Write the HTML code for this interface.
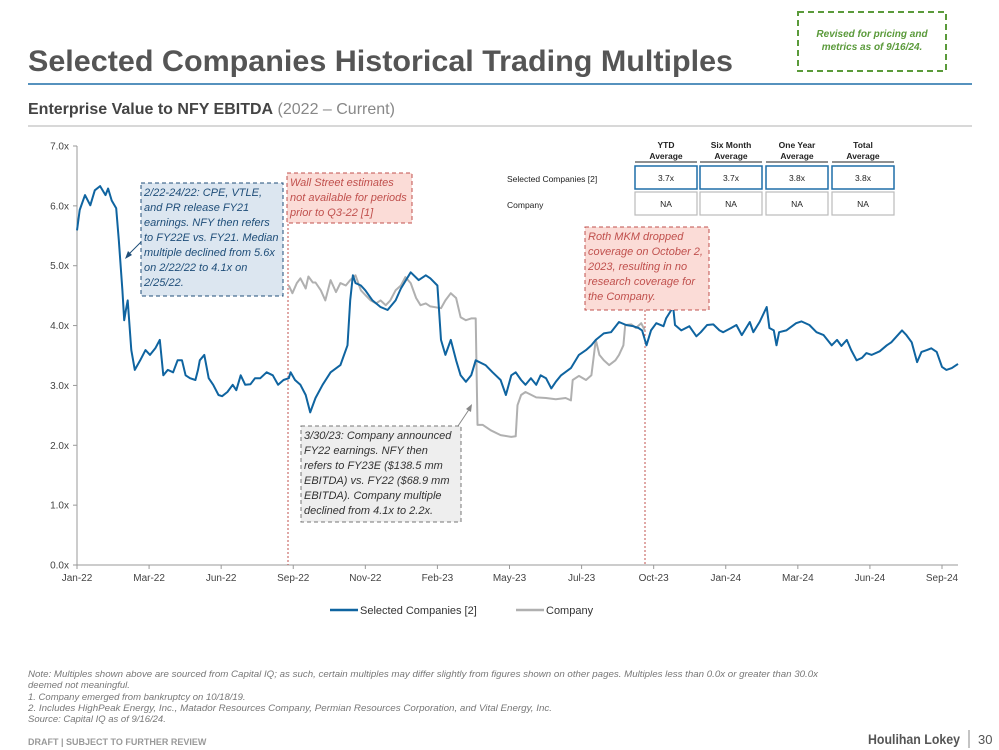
<!DOCTYPE html>
<html><head><meta charset="utf-8"><style>
body{margin:0;background:#fff;}
svg{display:block;font-family:"Liberation Sans",Arial,sans-serif;}
</style></head><body>
<svg id="page" width="999" height="750" viewBox="0 0 999 750">
<text x="28" y="71" font-size="30" font-weight="bold" fill="#555" textLength="705" lengthAdjust="spacingAndGlyphs">Selected Companies Historical Trading Multiples</text>
<rect x="798" y="12" width="148" height="59" fill="#fff" stroke="#5a9a3a" stroke-width="2" stroke-dasharray="6,4"/>
<text x="872" y="37" font-size="10" font-style="italic" font-weight="bold" fill="#5a9a3a" text-anchor="middle">Revised for pricing and</text>
<text x="872" y="50" font-size="10" font-style="italic" font-weight="bold" fill="#5a9a3a" text-anchor="middle">metrics as of 9/16/24.</text>
<line x1="28" y1="84" x2="972" y2="84" stroke="#1f6ea8" stroke-width="1.5"/>
<text x="28" y="114" font-size="16" fill="#444"><tspan font-weight="bold">Enterprise Value to NFY EBITDA</tspan><tspan fill="#888"> (2022 – Current)</tspan></text>
<line x1="28" y1="126" x2="972" y2="126" stroke="#ccc" stroke-width="1.5"/>

<g id="chart"></g>

<g font-size="8.5" fill="#222">
<text x="666" y="148" text-anchor="middle" font-weight="bold">YTD</text>
<text x="666" y="159" text-anchor="middle" font-weight="bold">Average</text>
<text x="731" y="148" text-anchor="middle" font-weight="bold">Six Month</text>
<text x="731" y="159" text-anchor="middle" font-weight="bold">Average</text>
<text x="797" y="148" text-anchor="middle" font-weight="bold">One Year</text>
<text x="797" y="159" text-anchor="middle" font-weight="bold">Average</text>
<text x="863" y="148" text-anchor="middle" font-weight="bold">Total</text>
<text x="863" y="159" text-anchor="middle" font-weight="bold">Average</text>
<g stroke="#222" stroke-width="1"><line x1="635" y1="162" x2="697" y2="162"/><line x1="700" y1="162" x2="762" y2="162"/><line x1="766" y1="162" x2="828" y2="162"/><line x1="832" y1="162" x2="894" y2="162"/></g>
<text x="507" y="182">Selected Companies [2]</text>
<text x="507" y="208">Company</text>
<g fill="#fff" stroke="#1f6ea8" stroke-width="1.5">
<rect x="635" y="166" width="62" height="23"/><rect x="700" y="166" width="62" height="23"/><rect x="766" y="166" width="62" height="23"/><rect x="832" y="166" width="62" height="23"/></g>
<g fill="#fff" stroke="#bbb" stroke-width="1.2">
<rect x="635" y="192" width="62" height="23"/><rect x="700" y="192" width="62" height="23"/><rect x="766" y="192" width="62" height="23"/><rect x="832" y="192" width="62" height="23"/></g>
<g text-anchor="middle">
<text x="666" y="181">3.7x</text>
<text x="731" y="181">3.7x</text>
<text x="797" y="181">3.8x</text>
<text x="863" y="181">3.8x</text>
<text x="666" y="207">NA</text>
<text x="731" y="207">NA</text>
<text x="797" y="207">NA</text>
<text x="863" y="207">NA</text>
</g></g>

<g font-size="9.5" font-style="italic" fill="#777">
<text x="28" y="677" textLength="790" lengthAdjust="spacingAndGlyphs">Note: Multiples shown above are sourced from Capital IQ; as such, certain multiples may differ slightly from figures shown on other pages. Multiples less than 0.0x or greater than 30.0x</text>
<text x="28" y="688">deemed not meaningful.</text>
<text x="28" y="700">1. Company emerged from bankruptcy on 10/18/19.</text>
<text x="28" y="711" textLength="524" lengthAdjust="spacingAndGlyphs">2.  Includes HighPeak Energy, Inc., Matador Resources Company, Permian Resources Corporation, and Vital Energy, Inc.</text>
<text x="28" y="722">Source: Capital IQ as of 9/16/24.</text>
</g>
<text x="28" y="745" font-size="9" fill="#999" font-weight="bold">DRAFT | SUBJECT TO FURTHER REVIEW</text>
<text x="960" y="744" font-size="14" font-weight="bold" fill="#555" text-anchor="end" textLength="92" lengthAdjust="spacingAndGlyphs">Houlihan Lokey</text>
<line x1="969" y1="730" x2="969" y2="748" stroke="#888"/>
<text x="978" y="744" font-size="13" fill="#555">30</text>
</svg>
<script>
const yTicks=[0,1,2,3,4,5,6,7];
const xTickLabels=["Jan-22","Mar-22","Jun-22","Sep-22","Nov-22","Feb-23","May-23","Jul-23","Oct-23","Jan-24","Mar-24","Jun-24","Sep-24"];
const xTickDays=[0,81,162,243,324,405,486,567,648,729,810,891,972];
const selDays=[0,3,9,15,20,26,32,35,39,44,47,51,53,55,57,61,65,71,77,82,88,93,97,102,108,113,118,122,127,133,136,138,143,148,153,159,163,169,175,179,184,189,195,200,206,213,220,226,232,238,240,245,251,257,262,268,276,285,296,304,307,310,313,319,324,332,341,349,358,364,375,384,392,397,405,409,414,420,426,431,437,443,448,459,467,476,482,488,493,499,504,510,516,521,527,533,538,544,555,564,572,578,583,592,600,609,617,625,631,635,640,645,651,659,662,670,672,679,688,696,701,708,715,722,726,735,741,747,756,760,767,775,778,783,786,789,797,808,814,823,831,839,848,854,859,865,870,876,882,887,893,902,910,915,927,932,938,944,949,955,960,966,972,977,983,990];
const selVals=[5.59,5.93,6.18,6.01,6.26,6.33,6.18,6.29,6.09,5.96,5.43,4.59,4.09,4.26,4.42,3.59,3.26,3.42,3.59,3.51,3.62,3.76,3.17,3.26,3.22,3.42,3.42,3.17,3.12,3.09,3.26,3.42,3.51,3.12,3.01,2.84,2.82,2.89,3.01,2.92,3.17,3.01,3.02,3.12,3.12,3.22,3.17,3.01,3.09,3.12,3.22,3.09,3.01,2.84,2.55,2.79,3.01,3.22,3.34,3.67,4.42,4.84,4.71,4.67,4.59,4.42,4.31,4.26,4.42,4.62,4.89,4.76,4.84,4.79,4.67,3.76,3.51,3.76,3.42,3.17,3.06,3.17,3.42,3.34,3.22,3.09,2.84,3.17,3.22,3.09,3.01,3.12,3.01,3.17,3.12,2.95,3.06,3.17,3.29,3.51,3.59,3.67,3.76,3.87,3.89,4.06,4.01,3.99,3.96,3.92,3.67,3.92,4.04,3.99,4.12,4.31,4.01,3.92,3.99,3.82,3.89,4.01,4.02,3.92,3.89,3.96,4.01,3.84,4.06,3.89,4.06,4.31,3.96,3.92,3.67,3.89,3.92,4.04,4.07,4.01,3.89,3.84,3.67,3.76,3.66,3.76,3.59,3.42,3.46,3.54,3.51,3.57,3.67,3.72,3.92,3.84,3.72,3.39,3.56,3.59,3.62,3.56,3.31,3.26,3.29,3.36];
const compDays=[238,242,247,251,257,260,265,268,274,279,285,291,296,302,307,313,319,324,330,336,341,347,352,358,364,369,375,381,386,392,397,409,414,420,426,431,437,443,448,450,456,465,476,488,493,495,499,504,516,527,538,549,555,557,564,572,578,583,587,592,598,605,609,614,616,623,628,634,638];
const compVals=[4.67,4.54,4.71,4.79,4.62,4.82,4.72,4.72,4.59,4.42,4.76,4.56,4.71,4.67,4.76,4.84,4.59,4.51,4.42,4.37,4.42,4.34,4.42,4.59,4.67,4.81,4.71,4.46,4.34,4.37,4.32,4.29,4.42,4.54,4.46,4.14,4.09,4.12,4.12,2.34,2.34,2.25,2.17,2.14,2.15,2.67,2.84,2.89,2.80,2.79,2.77,2.79,2.75,3.09,3.16,3.09,3.17,3.76,3.51,3.42,3.34,3.42,3.51,3.67,4.01,4.02,3.96,4.04,3.92];

const NS="http://www.w3.org/2000/svg";
const g=document.getElementById('chart');
const X0=77,X1=942,Y0=565,Y1=146;
const xs=d=>X0+(d/972)*(X1-X0);
const ys=v=>Y0-(v/7)*(Y0-Y1);
function mk(tag,attrs,parent){const e=document.createElementNS(NS,tag);for(const k in attrs)e.setAttribute(k,attrs[k]);(parent||g).appendChild(e);return e;}

const yAxis=mk('line',{x1:X0,y1:Y1,x2:X0,y2:Y0,stroke:'#999'});


const xAxis=mk('line',{x1:X0,y1:Y0,x2:958,y2:Y0,stroke:'#999'});


yTicks.forEach(v=>{
  mk('line',{x1:X0-4,y1:ys(v),x2:X0,y2:ys(v),stroke:'#999'});
  const t=mk('text',{x:X0-8,y:ys(v)+3.5,'font-size':10,fill:'#444','text-anchor':'end'});
  t.textContent=v.toFixed(1)+'x';
  
  
});
xTickLabels.forEach((l,i)=>{
  mk('line',{x1:xs(xTickDays[i]),y1:Y0,x2:xs(xTickDays[i]),y2:Y0+4,stroke:'#999'});
  const t=mk('text',{x:xs(xTickDays[i]),y:Y0+16,'font-size':10,fill:'#444','text-anchor':'middle'});
  t.textContent=l;
  
  
});
const v1=mk('line',{x1:288,y1:176,x2:288,y2:Y0,stroke:'#c0504d','stroke-dasharray':'2,2'});


const v2=mk('line',{x1:645,y1:310,x2:645,y2:Y0,stroke:'#c0504d','stroke-dasharray':'2,2'});



function path(days,vals){return days.map((d,i)=>(i?'L':'M')+xs(d).toFixed(1)+','+ys(vals[i]).toFixed(1)).join('');}
const cp=mk('path',{d:path(compDays,compVals),fill:'none',stroke:'#b0b0b0','stroke-width':2,'stroke-linejoin':'round'});


const sp=mk('path',{d:path(selDays,selVals),fill:'none',stroke:'#0f64a0','stroke-width':2,'stroke-linejoin':'round'});



function box(x,y,w,h,fill,stroke,lines,color,name){
  const r=mk('rect',{x:x,y:y,width:w,height:h,fill:fill,stroke:stroke,'stroke-dasharray':'4,3'});
  
  
  lines.forEach((l,i)=>{const t=mk('text',{x:x+3,y:y+13+i*15,'font-size':11,'font-style':'italic',fill:color});t.textContent=l;});
}
box(141,183,142,113,'#dce6f0','#1f4e79',['2/22-24/22: CPE, VTLE,','and PR release FY21','earnings. NFY then refers','to FY22E vs. FY21. Median','multiple declined from 5.6x','on 2/22/22 to 4.1x on','2/25/22.'],'#1f4e79','annotation-feb22');
box(287,173,125,50,'#fbdcd7','#c0504d',['Wall Street estimates','not available for periods','prior to Q3-22 [1]'],'#c0504d','annotation-q3-22');
box(585,227,124,83,'#fbdcd7','#c0504d',['Roth MKM dropped','coverage on October 2,','2023, resulting in no','research coverage for','the Company.'],'#c0504d','annotation-roth');
box(301,426,160,96,'#eeeeee','#777',['3/30/23: Company announced','FY22 earnings. NFY then','refers to FY23E ($138.5 mm','EBITDA) vs. FY22 ($68.9 mm','EBITDA). Company multiple','declined from 4.1x to 2.2x.'],'#333','annotation-mar23');
const a1=mk('line',{x1:141,y1:242,x2:127,y2:256,stroke:'#1f4e79','stroke-width':1});


mk('polygon',{points:'125,259 128,251 132,255',fill:'#1f4e79'});
const a2=mk('line',{x1:458,y1:426,x2:470,y2:408,stroke:'#888','stroke-width':1});


mk('polygon',{points:'472,404 466,409 471,412',fill:'#888'});
const l1=mk('line',{x1:330,y1:610,x2:358,y2:610,stroke:'#0f64a0','stroke-width':2.5});


const lt1=mk('text',{x:360,y:614,'font-size':11,fill:'#333'});lt1.textContent='Selected Companies [2]';


const l2=mk('line',{x1:516,y1:610,x2:544,y2:610,stroke:'#b0b0b0','stroke-width':2.5});


const lt2=mk('text',{x:546,y:614,'font-size':11,fill:'#333'});lt2.textContent='Company';


</script>
</body></html>
